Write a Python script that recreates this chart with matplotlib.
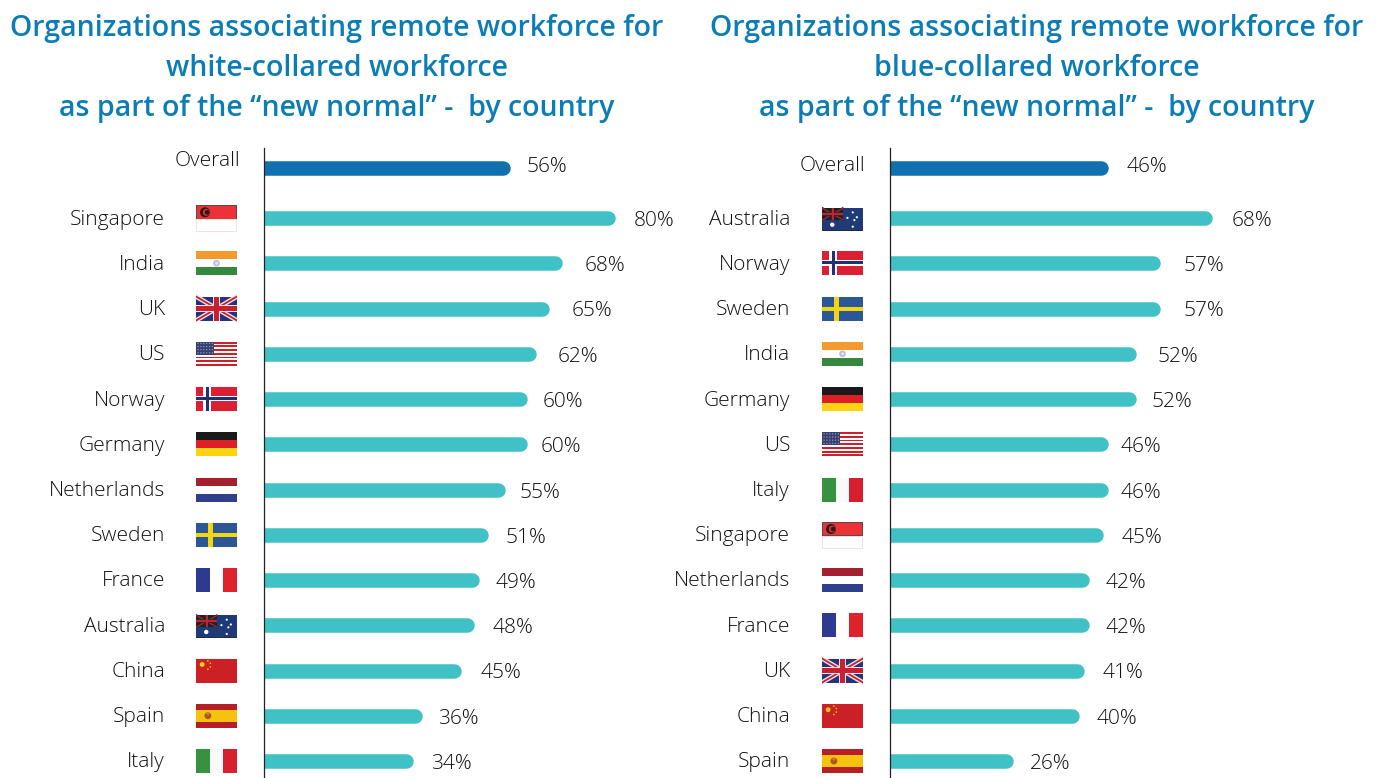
import matplotlib
matplotlib.use('Agg')
import matplotlib.pyplot as plt
from matplotlib.patches import Rectangle, Circle, Polygon

# left panel
white_countries = ['Singapore', 'India', 'UK', 'US', 'Norway', 'Germany', 'Netherlands',
                   'Sweden', 'France', 'Australia', 'China', 'Spain', 'Italy']
white_values = [80, 68, 65, 62, 60, 60, 55, 51, 49, 48, 45, 36, 34]
white_overall = 56

# right panel
blue_countries = ['Australia', 'Norway', 'Sweden', 'India', 'Germany', 'US', 'Italy',
                  'Singapore', 'Netherlands', 'France', 'UK', 'China', 'Spain']
blue_values = [68, 57, 57, 52, 52, 46, 46, 45, 42, 42, 41, 40, 26]
blue_overall = 46

white_title = ['Organizations associating remote workforce for',
               'white-collared workforce',
               'as part of the “new normal” -  by country']
blue_title = ['Organizations associating remote workforce for',
              'blue-collared workforce',
              'as part of the “new normal” -  by country']

# 百分比标签在原图里是手工摆放的，这里记录偏移（像素），第一个是 Overall
white_nudge = [-1, 0, 4, 4, 3, -3, -5, -4, 0, -2, 0, 1, -2, 0]
blue_nudge = [1, 1, 5, 5, 3, -3, -5, -5, 0, -1, -1, 0, -1, -1]

W, H = 1384, 778
TEAL = '#40c1c5'
DARK_BLUE = '#1170b0'
TITLE_BLUE = '#0a7db8'
TEXT = '#111111'
ROW0, ROW_STEP = 218, 45.25
OVERALL_ROW = -1.105
BAR_PX = 14.5

plt.rcParams['font.family'] = ['Open Sans', 'DejaVu Sans']

fig = plt.figure(figsize=(W / 100, H / 100), dpi=100)
# overlay in pixel coordinates, for titles and flags
over = fig.add_axes([0, 0, 1, 1], zorder=5)
over.set_xlim(0, W)
over.set_ylim(H, 0)
over.axis('off')
over.patch.set_alpha(0)


def row_px(r):
    return ROW0 + ROW_STEP * r


def draw_flag(name, x, yc, w=41, h=24):
    """画一面小国旗，(x, yc) 是左边缘和垂直中心"""
    if name == 'Singapore':
        h = 27
    elif name == 'Australia':
        h = 22
        yc = yc + 1
    y = yc - h / 2

    def rect(a, b, c, d, color, **kw):
        over.add_patch(Rectangle((x + a * w, y + b * h), (c - a) * w, (d - b) * h,
                                 facecolor=color, edgecolor='none', **kw))

    def poly(pts, color):
        over.add_patch(Polygon([(x + p * w, y + q * h) for p, q in pts],
                               facecolor=color, edgecolor='none'))

    def dot(a, b, r, color):
        over.add_patch(Circle((x + a * w, y + b * h), r, facecolor=color, edgecolor='none'))

    def union(x1, y1, white, red, blue):
        rect(0, 0, x1, y1, blue)
        for p, q in [((0, 0), (x1, y1)), ((0, y1), (x1, 0))]:
            dy = 0.11 * y1
            poly([(p[0], p[1] - dy), (q[0], q[1] - dy), (q[0], q[1] + dy), (p[0], p[1] + dy)],
                 white)
            poly([(p[0], p[1] - dy / 2.5), (q[0], q[1] - dy / 2.5),
                  (q[0], q[1] + dy / 2.5), (p[0], p[1] + dy / 2.5)], red)
        rect(x1 / 2 - 0.085 * x1, 0, x1 / 2 + 0.085 * x1, y1, white)
        rect(0, y1 / 2 - 0.16 * y1, x1, y1 / 2 + 0.16 * y1, white)
        rect(x1 / 2 - 0.05 * x1, 0, x1 / 2 + 0.05 * x1, y1, red)
        rect(0, y1 / 2 - 0.09 * y1, x1, y1 / 2 + 0.09 * y1, red)

    if name == 'Singapore':
        rect(0, 0, 1, 0.53, '#5a4a4a')
        rect(0.02, 0.04, 0.98, 0.5, '#ec3237')
        rect(0, 0.53, 1, 1, '#f8dfe6')
        rect(0.02, 0.55, 0.98, 0.97, 'white')
        dot(0.22, 0.27, 5, '#2a1a1a')
        dot(0.25, 0.27, 3.4, '#ec3237')
        dot(0.27, 0.27, 2.4, '#2a1a1a')
    elif name == 'India':
        rect(0, 0, 1, 1 / 3, '#f39a2e')
        rect(0, 1 / 3, 1, 2 / 3, 'white')
        rect(0, 2 / 3, 1, 1, '#37883f')
        dot(0.5, 0.5, 3.3, '#b9bcd8')
        dot(0.5, 0.5, 1.5, '#e6e6f0')
    elif name == 'UK':
        union(1, 1, '#f4e6ea', '#c8202f', '#26327a')
    elif name == 'US':
        for i in range(13):
            rect(0, i / 13, 1, (i + 1) / 13, '#cf2027' if i % 2 == 0 else 'white')
        rect(0, 0, 0.45, 7 / 13, '#363f72')
        for i in range(6):
            for j in range(4):
                dot(0.05 + i * 0.07, 0.07 + j * 0.13, 0.7, '#9097b8')
    elif name == 'Norway':
        rect(0, 0, 1, 1, '#dc1f33')
        rect(0.17, 0, 0.37, 1, 'white')
        rect(0, 0.36, 1, 0.6, 'white')
        rect(0.235, 0, 0.32, 1, '#24306e')
        rect(0, 0.42, 1, 0.54, '#24306e')
    elif name == 'Germany':
        rect(0, 0, 1, 1 / 3, '#1a1a1a')
        rect(0, 1 / 3, 1, 2 / 3, '#dd2026')
        rect(0, 2 / 3, 1, 1, '#fbd311')
    elif name == 'Netherlands':
        rect(0, 0, 1, 1 / 3, '#a2202f')
        rect(0, 1 / 3, 1, 2 / 3, 'white')
        rect(0, 2 / 3, 1, 1, '#2e3f8c')
    elif name == 'Sweden':
        rect(0, 0, 1, 1, '#2b5796')
        rect(0.29, 0, 0.41, 1, '#f5d412')
        rect(0, 0.42, 1, 0.61, '#f5d412')
    elif name == 'France':
        rect(0, 0, 1 / 3, 1, '#2e3a8f')
        rect(1 / 3, 0, 2 / 3, 1, 'white')
        rect(2 / 3, 0, 1, 1, '#e0222f')
    elif name == 'Australia':
        rect(-0.01, -0.02, 1.01, 1.03, '#2a2a2a')
        rect(0, 0, 1, 1, '#1e3a78')
        union(0.52, 0.55, '#2a2a2a', '#c8202f', '#1f1f28')
        dot(0.25, 0.76, 2.2, 'white')
        for a, b in [(0.62, 0.45), (0.75, 0.2), (0.85, 0.42), (0.75, 0.85), (0.79, 0.55)]:
            dot(a, b, 1.1, 'white')
    elif name == 'China':
        rect(0, 0, 1, 1, '#cc2027')
        dot(0.15, 0.25, 2.4, '#f7d117')
        for a, b in [(0.29, 0.1), (0.35, 0.2), (0.35, 0.35), (0.29, 0.45)]:
            dot(a, b, 0.8, '#f7d117')
    elif name == 'Spain':
        rect(0, 0, 1, 1, '#b71f26')
        rect(0, 0.25, 1, 0.75, '#f5c20f')
        dot(0.29, 0.5, 3.4, '#a8552c')
        dot(0.29, 0.42, 1.5, '#d08030')
    elif name == 'Italy':
        rect(0, 0, 1 / 3, 1, '#37923f')
        rect(1 / 3, 0, 2 / 3, 1, '#f7f9fb')
        rect(2 / 3, 0, 1, 1, '#d81f2e')


def draw_panel(left_px, px_per_pct, countries, values, overall, nudge, title, title_x,
               label_x, flag_x, overall_label_y):
    width_px = W - left_px if left_px > 600 else 690 - left_px
    ax = fig.add_axes([left_px / W, 0, width_px / W, (H - 148) / H])
    ax.set_xlim(0, width_px / px_per_pct)
    ax.set_ylim(H, 148)  # y 轴直接用像素
    ax.patch.set_alpha(0)

    rows = [row_px(i) for i in range(len(countries))]
    cap = BAR_PX / 2 / px_per_pct
    lw = BAR_PX * 0.72
    ax.plot([0, overall - cap], [row_px(OVERALL_ROW)] * 2, color=DARK_BLUE, lw=lw,
            solid_capstyle='round')
    for r, v in zip(rows, values):
        ax.plot([0, v - cap], [r, r], color=TEAL, lw=lw, solid_capstyle='round')

    # 数值标签
    all_rows = [row_px(OVERALL_ROW) - 4] + rows
    for r, v, n in zip(all_rows, [overall] + values, nudge):
        ax.annotate(f'{v}%', (v, r + 3), xytext=((18 + n) * 0.72, 0), textcoords='offset points',
                    ha='left', va='center', fontsize=15, color=TEXT, fontweight='light',
                    annotation_clip=False)

    ax.set_xticks([])
    ax.set_yticks([])
    for s in ['top', 'right', 'bottom']:
        ax.spines[s].set_visible(False)
    ax.spines['left'].set_color('#222222')
    ax.spines['left'].set_linewidth(0.9)

    # 国家名和国旗
    over.text(label_x + 75.5, overall_label_y, 'Overall',
              ha='right', va='center', fontsize=15, color=TEXT, fontweight='light')
    for r, c in zip(rows, countries):
        over.text(label_x, r + 1.5, c, ha='right', va='center', fontsize=15, color=TEXT,
                  fontweight='light')
        draw_flag(c, flag_x, r + (0.5 if c == 'Singapore' else 0))

    for i, line in enumerate(title):
        over.text(title_x, 28 + 40 * i, line, ha='center', va='center', fontsize=20.5,
                  color=TITLE_BLUE, fontweight='semibold')


draw_panel(263.5, 4.4, white_countries, white_values, white_overall, white_nudge, white_title,
           337, 165, 196, 160.5)
draw_panel(889.5, 4.75, blue_countries, blue_values, blue_overall, blue_nudge, blue_title,
           1037, 790, 822, 165.5)

fig.savefig('out.png', dpi=100)
